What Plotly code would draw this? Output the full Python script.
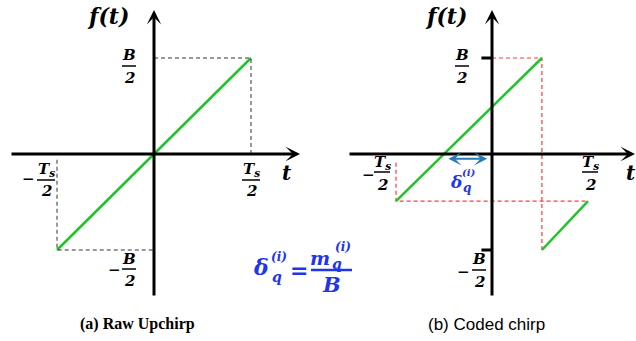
import plotly.graph_objects as go

W, H = 636, 341

# time in units of Ts/2, frequency in units of B/2
raw_t = [-1, 1]
raw_f = [-1, 1]

coded_t1 = [-1, 0.52]
coded_f1 = [-0.49, 1]
coded_t2 = [0.52, 1]
coded_f2 = [-1, -0.49]

raw_guides_t = [[0, 1, 1], [-1, -1, 0]]
raw_guides_f = [[1, 1, 0], [-0.06, -1, -1]]
coded_guides_t = [[0, 0.52, 0.52], [-1, -1, 1]]
coded_guides_f = [[1, 1, -1], [-0.09, -0.49, -0.49]]

delta_t = [-0.47, -0.05]
delta_f = -0.05

# pixel geometry of the two panels
ORG_Y, UNIT_Y = 154, 96
LEFT_ORG_X, LEFT_UNIT = 154, 97
RIGHT_ORG_X, RIGHT_UNIT = 492, 96

GREEN = "#22c32a"
RED = "#ff3b3b"
BLUE = "#1f35e6"
MATH = "DejaVu Serif, Liberation Serif, Times New Roman, serif"
SERIF = "Times New Roman, Liberation Serif, Tinos, DejaVu Serif, serif"

fig = go.Figure()

for t, f in [(raw_t, raw_f)]:
    fig.add_trace(go.Scatter(x=t, y=f, mode="lines", line=dict(color=GREEN, width=2.5),
                             xaxis="x", yaxis="y", hoverinfo="skip"))
for t, f in zip(raw_guides_t, raw_guides_f):
    fig.add_trace(go.Scatter(x=t, y=f, mode="lines", line=dict(color="#333", width=1, dash="4px,3px"),
                             xaxis="x", yaxis="y", hoverinfo="skip"))
for t, f in zip(coded_guides_t, coded_guides_f):
    fig.add_trace(go.Scatter(x=t, y=f, mode="lines", line=dict(color=RED, width=1.2, dash="4px,3px"),
                             xaxis="x2", yaxis="y", hoverinfo="skip"))
for t, f in [(coded_t1, coded_f1), (coded_t2, coded_f2)]:
    fig.add_trace(go.Scatter(x=t, y=f, mode="lines", line=dict(color=GREEN, width=2.5),
                             xaxis="x2", yaxis="y", hoverinfo="skip"))

annotations = []
shapes = []


def paper(x, y):
    return x / W, 1 - y / H


def arrow(xref, x0, y0, x1, y1, color="black", width=3, side="end", size=0.8):
    annotations.append(dict(x=x1, y=y1, ax=x0, ay=y0, xref=xref, yref="y", axref=xref, ayref="y",
                            text="", showarrow=True, arrowhead=3, startarrowhead=3, arrowside=side,
                            arrowsize=size, startarrowsize=size, arrowwidth=width,
                            arrowcolor=color, standoff=0, startstandoff=0))


def label(x, y, text, size=15, color="black", family=MATH, bold=True, italic=True):
    if italic:
        text = "<i>" + text + "</i>"
    if bold:
        text = "<b>" + text + "</b>"
    px, py = paper(x, y)
    annotations.append(dict(x=px, y=py, xref="paper", yref="paper", text=text, showarrow=False,
                            xanchor="center", yanchor="middle",
                            font=dict(family=family, size=size, color=color)))


def bar(x0, x1, y, color="black", width=1.5):
    a, b = paper(x0, y)
    c, _ = paper(x1, y)
    shapes.append(dict(type="line", xref="paper", yref="paper", x0=a, x1=c, y0=b, y1=b,
                       line=dict(color=color, width=width)))


def frac(cx, ny, by, dy, num, den, half, size=15):
    label(cx, ny, num, size)
    bar(cx - half, cx + half, by)
    label(cx, dy, den, size)


# axes
arrow("x", (10 - LEFT_ORG_X) / LEFT_UNIT, 0, (300 - LEFT_ORG_X) / LEFT_UNIT, 0)
arrow("x", 0, (ORG_Y - 297) / UNIT_Y, 0, (ORG_Y - 10) / UNIT_Y)
arrow("x2", (348 - RIGHT_ORG_X) / RIGHT_UNIT, 0, (635 - RIGHT_ORG_X) / RIGHT_UNIT, 0)
arrow("x2", 0, (ORG_Y - 297) / UNIT_Y, 0, (ORG_Y - 10) / UNIT_Y)

# ticks at +-B/2 on the coded panel
for fv in [1, -1]:
    shapes.append(dict(type="line", xref="x2", yref="y", x0=-0.11, x1=0, y0=fv, y1=fv,
                       line=dict(color="black", width=3)))

# delta arrow
arrow("x2", delta_t[0], delta_f, delta_t[1], delta_f, color="#2a7ab5", width=2, side="end+start", size=1.1)

# left panel labels
label(108, 16, "f(t)", 22)
frac(129, 55, 66, 78, "B", "2", 7)
label(115, 270, "−", 15)
frac(129, 259, 269, 281, "B", "2", 7)
frac(251, 169, 180, 191, "T<sub>s</sub>", "2", 9)
label(287, 173, "t", 20)
label(29, 179, "−", 15)
frac(46, 169, 180, 191, "T<sub>s</sub>", "2", 9)
label(137, 324, "(a) Raw Upchirp", 16, family=SERIF, italic=False)

# right panel labels
label(446, 16, "f(t)", 22)
frac(462, 55, 66, 78, "B", "2", 7)
label(464, 272, "−", 15)
frac(479, 259, 270, 282, "B", "2", 7)
frac(590, 162, 172, 185, "T<sub>s</sub>", "2", 8)
label(631, 173, "t", 20)
label(368, 175, "−", 15)
frac(382, 162, 172, 185, "T<sub>s</sub>", "2", 8)
label(486, 324, "(b) Coded chirp", 17, family="Liberation Sans, Arial, sans-serif", bold=False, italic=False)

# delta label under the arrow
label(456, 182, "δ", 17, color=BLUE)
label(469, 172, "(i)", 10, color=BLUE)
label(467, 188, "q", 12, color=BLUE)

# formula
label(261, 267, "δ", 22, color=BLUE)
label(279, 257, "(i)", 12, color=BLUE)
label(277, 277, "q", 14, color=BLUE)
label(299, 270, "=", 22, color=BLUE, italic=False)
label(320, 258, "m", 19, color=BLUE)
label(343, 247, "(i)", 12, color=BLUE)
label(337, 264, "q", 14, color=BLUE)
bar(311, 352, 270, color=BLUE, width=2.5)
label(331, 284, "B", 21, color=BLUE)

fig.update_layout(
    width=W, height=H,
    margin=dict(l=0, r=0, t=0, b=0),
    paper_bgcolor="white", plot_bgcolor="white",
    showlegend=False,
    xaxis=dict(domain=[0, 0.5], range=[-LEFT_ORG_X / LEFT_UNIT, (W / 2 - LEFT_ORG_X) / LEFT_UNIT],
               visible=False, fixedrange=True),
    xaxis2=dict(domain=[0.5, 1], range=[(W / 2 - RIGHT_ORG_X) / RIGHT_UNIT, (W - RIGHT_ORG_X) / RIGHT_UNIT],
                visible=False, fixedrange=True, anchor="y"),
    yaxis=dict(domain=[0, 1], range=[(ORG_Y - H) / UNIT_Y, ORG_Y / UNIT_Y], visible=False, fixedrange=True),
    annotations=annotations,
    shapes=shapes,
)

fig.write_html("out.html", config={"displayModeBar": False},
               post_script="document.body.style.margin='0';")
